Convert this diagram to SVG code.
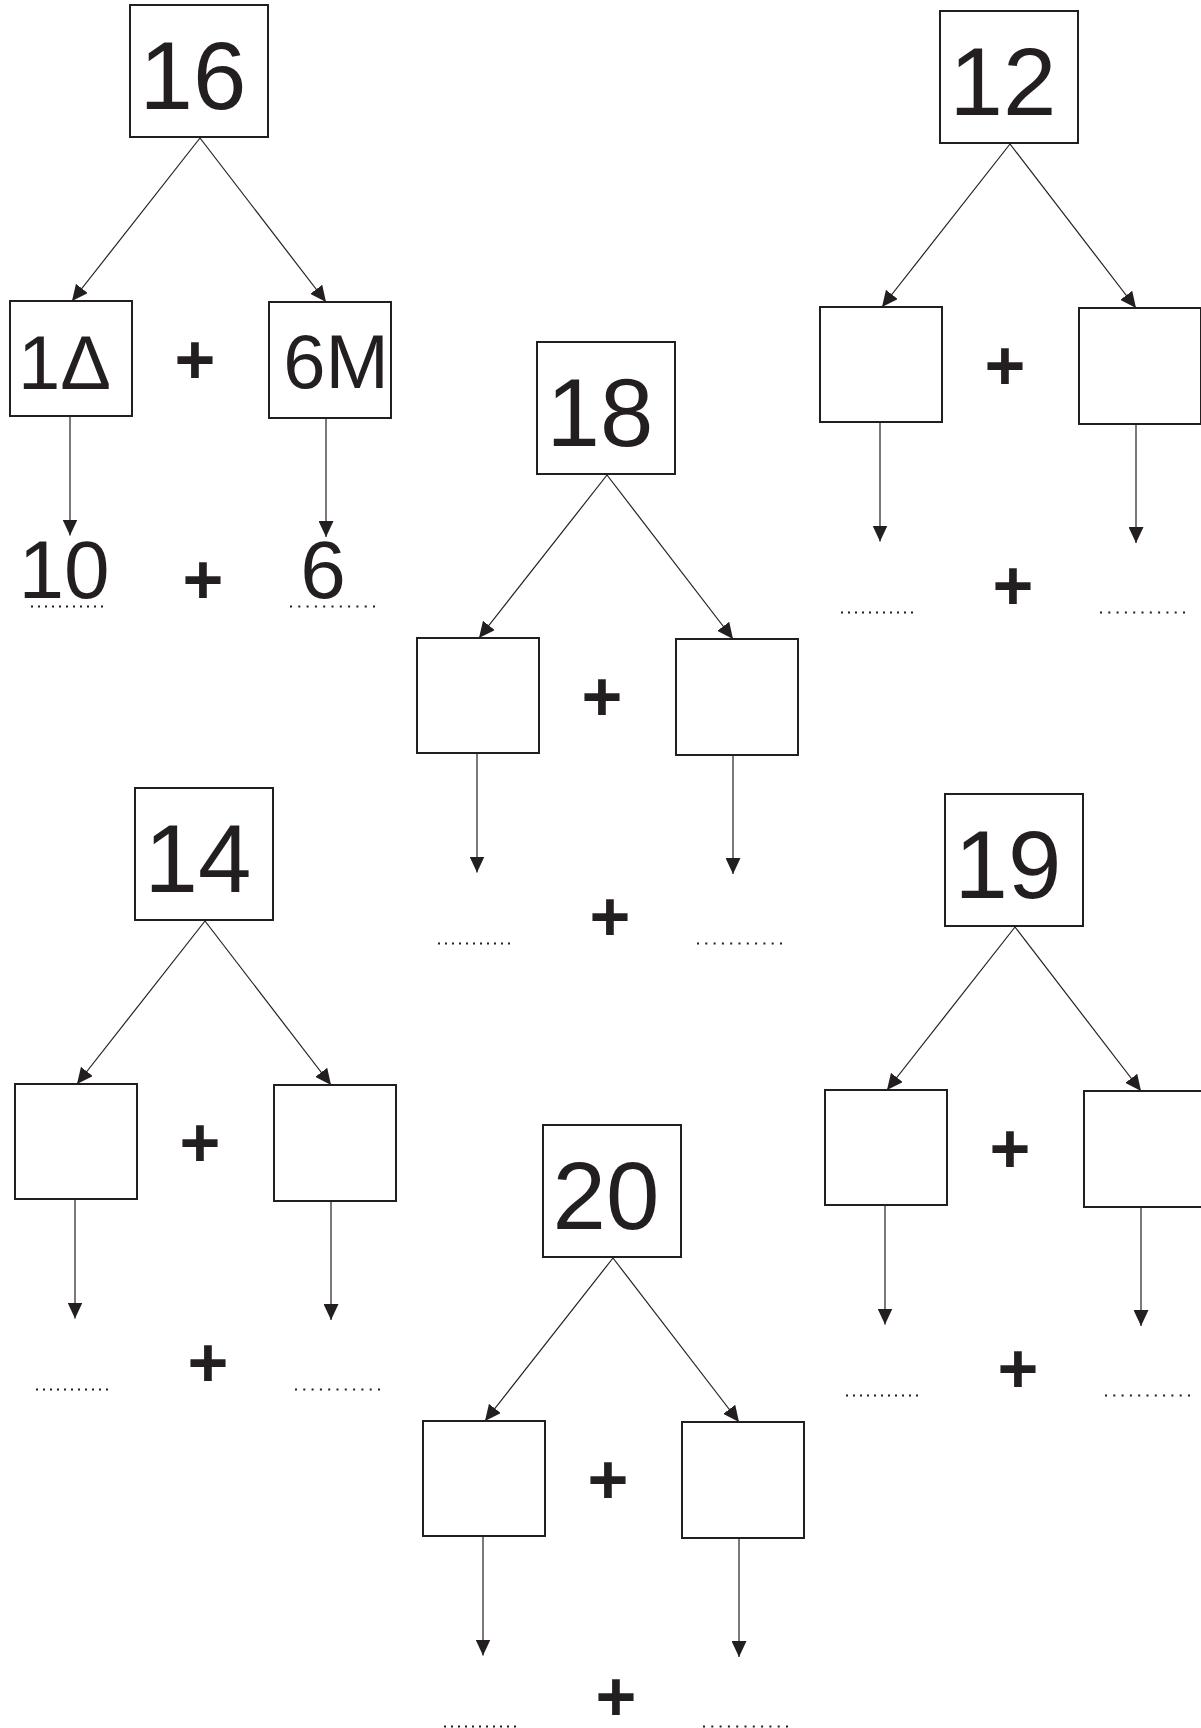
<svg xmlns="http://www.w3.org/2000/svg" width="1201" height="1728" viewBox="0 0 1201 1728">
<defs>
<marker id="ah" viewBox="0 0 10 10" refX="10" refY="5" markerWidth="16" markerHeight="15" markerUnits="userSpaceOnUse" orient="auto" preserveAspectRatio="none"><path d="M0,0L10,5L0,10z" fill="#231f20"/></marker>
<style>
.box{fill:#fff;stroke:#231f20;stroke-width:2}
.num{font-family:"Liberation Sans",Arial,sans-serif;font-size:96px;fill:#231f20;text-anchor:middle}
.mid{font-family:"Liberation Sans",Arial,sans-serif;font-size:76px;fill:#231f20;text-anchor:middle}
.res{font-family:"Liberation Sans",Arial,sans-serif;font-size:82px;fill:#231f20;text-anchor:middle}
.plus{font-family:"Liberation Sans",Arial,sans-serif;font-size:70px;font-weight:bold;fill:#231f20;text-anchor:middle}
.arr{stroke:#231f20;stroke-width:1.2;fill:none;marker-end:url(#ah)}
.blank{stroke:#231f20;stroke-width:2;stroke-dasharray:2 5;fill:none}
.blankr{stroke:#231f20;stroke-width:2;stroke-dasharray:2 6.3;fill:none}
</style>
</defs>
<rect width="1201" height="1728" fill="#fff"/>

<g id="connectors">
<line class="arr" x1="200" y1="138" x2="72" y2="301"/>
<line class="arr" x1="200" y1="138" x2="326" y2="302"/>
<line class="arr" x1="70" y1="416" x2="70" y2="535.5"/>
<line class="arr" x1="326" y1="418" x2="326" y2="537"/>
<line class="arr" x1="1010" y1="144" x2="882" y2="307"/>
<line class="arr" x1="1010" y1="144" x2="1136" y2="308"/>
<line class="arr" x1="880" y1="422" x2="880" y2="541.5"/>
<line class="arr" x1="1136" y1="424" x2="1136" y2="543"/>
<line class="arr" x1="607" y1="475" x2="479" y2="638"/>
<line class="arr" x1="607" y1="475" x2="733" y2="639"/>
<line class="arr" x1="477" y1="753" x2="477" y2="872.5"/>
<line class="arr" x1="733" y1="755" x2="733" y2="874"/>
<line class="arr" x1="205" y1="921" x2="77" y2="1084"/>
<line class="arr" x1="205" y1="921" x2="331" y2="1085"/>
<line class="arr" x1="75" y1="1199" x2="75" y2="1318.5"/>
<line class="arr" x1="331" y1="1201" x2="331" y2="1320"/>
<line class="arr" x1="613" y1="1258" x2="485" y2="1421"/>
<line class="arr" x1="613" y1="1258" x2="739" y2="1422"/>
<line class="arr" x1="483" y1="1536" x2="483" y2="1655.5"/>
<line class="arr" x1="739" y1="1538" x2="739" y2="1657"/>
<line class="arr" x1="1015" y1="927" x2="887" y2="1090"/>
<line class="arr" x1="1015" y1="927" x2="1141" y2="1091"/>
<line class="arr" x1="885" y1="1205" x2="885" y2="1324.5"/>
<line class="arr" x1="1141" y1="1207" x2="1141" y2="1326"/>
</g>

<g id="n16"><rect class="box" x="130" y="5" width="138" height="132"/><text class="num" x="193" y="109">16</text></g>
<g id="n16-left"><rect class="box" x="10" y="301" width="122" height="115"/><text class="mid" x="64.5" y="389">1Δ</text></g>
<g id="n16-right"><rect class="box" x="269" y="302" width="122" height="116"/><text class="mid" x="336" y="388">6M</text></g>
<g id="n16-plus"><text class="plus" x="195" y="384">+</text></g>
<g id="n16-res-left"><text class="res" x="64" y="598">10</text><line class="blank" x1="31" y1="606.5" x2="104" y2="606.5"/></g>
<g id="n16-res-plus"><text class="plus" x="203" y="604">+</text></g>
<g id="n16-res-right"><text class="res" x="323" y="598">6</text><line class="blankr" x1="290" y1="606.5" x2="375" y2="606.5"/></g>

<g id="n12"><rect class="box" x="940" y="11" width="138" height="132"/><text class="num" x="1003" y="115">12</text></g>
<g id="n12-left"><rect class="box" x="820" y="307" width="122" height="115"/></g>
<g id="n12-right"><rect class="box" x="1079" y="308" width="122" height="116"/></g>
<g id="n12-plus"><text class="plus" x="1005" y="390">+</text></g>
<g id="n12-res-left"><line class="blank" x1="841" y1="612.5" x2="914" y2="612.5"/></g>
<g id="n12-res-plus"><text class="plus" x="1013" y="610">+</text></g>
<g id="n12-res-right"><line class="blankr" x1="1100" y1="612.5" x2="1185" y2="612.5"/></g>

<g id="n18"><rect class="box" x="537" y="342" width="138" height="132"/><text class="num" x="600" y="446">18</text></g>
<g id="n18-left"><rect class="box" x="417" y="638" width="122" height="115"/></g>
<g id="n18-right"><rect class="box" x="676" y="639" width="122" height="116"/></g>
<g id="n18-plus"><text class="plus" x="602" y="721">+</text></g>
<g id="n18-res-left"><line class="blank" x1="438" y1="943.5" x2="511" y2="943.5"/></g>
<g id="n18-res-plus"><text class="plus" x="610" y="941">+</text></g>
<g id="n18-res-right"><line class="blankr" x1="697" y1="943.5" x2="782" y2="943.5"/></g>

<g id="n14"><rect class="box" x="135" y="788" width="138" height="132"/><text class="num" x="198" y="892">14</text></g>
<g id="n14-left"><rect class="box" x="15" y="1084" width="122" height="115"/></g>
<g id="n14-right"><rect class="box" x="274" y="1085" width="122" height="116"/></g>
<g id="n14-plus"><text class="plus" x="200" y="1167">+</text></g>
<g id="n14-res-left"><line class="blank" x1="36" y1="1389.5" x2="109" y2="1389.5"/></g>
<g id="n14-res-plus"><text class="plus" x="208" y="1387">+</text></g>
<g id="n14-res-right"><line class="blankr" x1="295" y1="1389.5" x2="380" y2="1389.5"/></g>

<g id="n20"><rect class="box" x="543" y="1125" width="138" height="132"/><text class="num" x="606" y="1229">20</text></g>
<g id="n20-left"><rect class="box" x="423" y="1421" width="122" height="115"/></g>
<g id="n20-right"><rect class="box" x="682" y="1422" width="122" height="116"/></g>
<g id="n20-plus"><text class="plus" x="608" y="1504">+</text></g>
<g id="n20-res-left"><line class="blank" x1="444" y1="1726.5" x2="517" y2="1726.5"/></g>
<g id="n20-res-plus"><text class="plus" x="616" y="1721">+</text></g>
<g id="n20-res-right"><line class="blankr" x1="703" y1="1726.5" x2="788" y2="1726.5"/></g>

<g id="n19"><rect class="box" x="945" y="794" width="138" height="132"/><text class="num" x="1008" y="898">19</text></g>
<g id="n19-left"><rect class="box" x="825" y="1090" width="122" height="115"/></g>
<g id="n19-right"><rect class="box" x="1084" y="1091" width="122" height="116"/></g>
<g id="n19-plus"><text class="plus" x="1010" y="1173">+</text></g>
<g id="n19-res-left"><line class="blank" x1="846" y1="1395.5" x2="919" y2="1395.5"/></g>
<g id="n19-res-plus"><text class="plus" x="1018" y="1393">+</text></g>
<g id="n19-res-right"><line class="blankr" x1="1105" y1="1395.5" x2="1190" y2="1395.5"/></g>
</svg>
